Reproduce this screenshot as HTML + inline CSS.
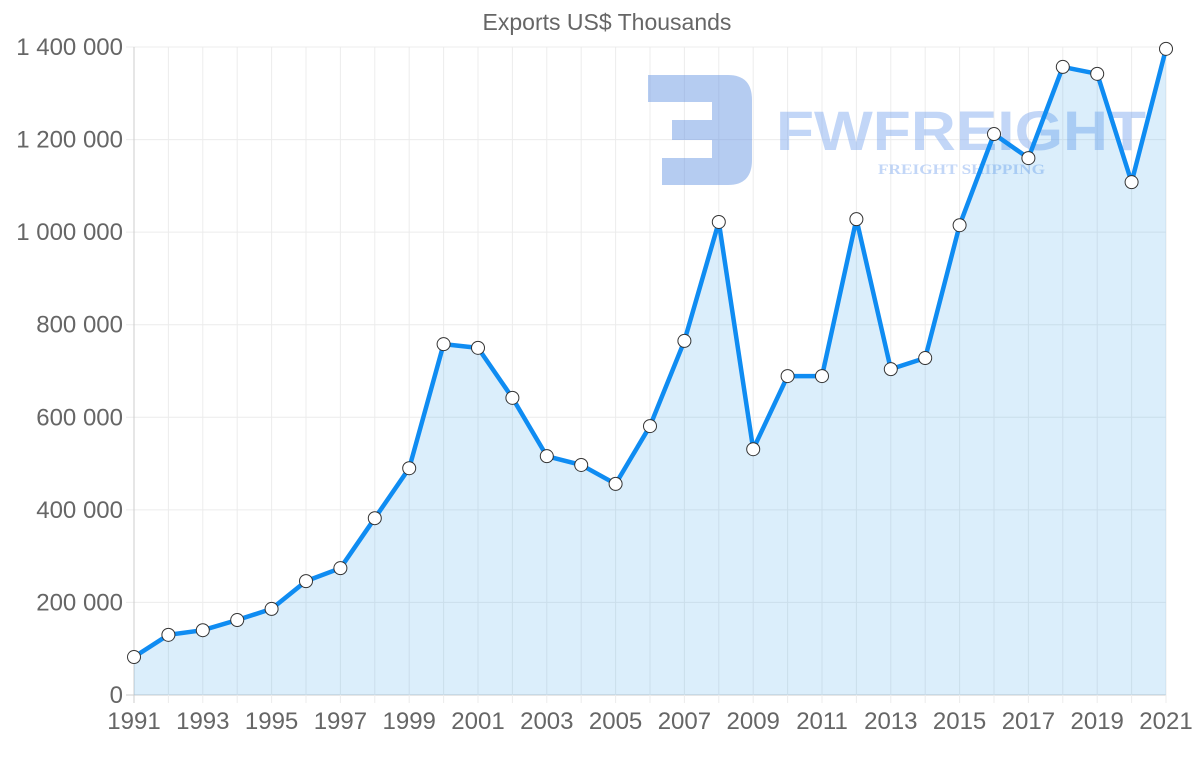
<!DOCTYPE html>
<html><head><meta charset="utf-8">
<style>
html,body{margin:0;padding:0;background:#fff;}
svg{display:block;font-family:"Liberation Sans",Arial,sans-serif;}
</style></head>
<body>
<svg id="chart" width="1200" height="763" viewBox="0 0 1200 763">
  <text x="607" y="30" text-anchor="middle" font-size="23" fill="#666">Exports US$ Thousands</text>
  <g id="grid"></g>
  <g id="watermark" opacity="0.45">
    <path d="M648,75 H728 Q752,75 752,100 V160 Q752,185 728,185 H662 V158 H712 V140 H672 V120 H712 V102 H648 Z" fill="#5b8fe0"/>
    <text x="776" y="150" font-size="56" font-weight="bold" fill="#7aa6ee" textLength="370" lengthAdjust="spacingAndGlyphs">FWFREIGHT</text>
    <text x="878" y="174" font-size="15" font-family="Liberation Serif,serif" font-weight="bold" fill="#7aa6ee" textLength="167" lengthAdjust="spacingAndGlyphs">FREIGHT SHIPPING</text>
  </g>
  <g id="series"></g>
  <g id="axes"></g>
</svg>
<script>
const years = [1991,1992,1993,1994,1995,1996,1997,1998,1999,2000,2001,2002,2003,2004,2005,2006,2007,2008,2009,2010,2011,2012,2013,2014,2015,2016,2017,2018,2019,2020,2021];
const exportsValues = [82000,130000,140000,162000,186000,246000,274000,382000,490000,758000,750000,642000,516000,497000,456000,581000,765000,1022000,531000,689000,689000,1028000,704000,728000,1015000,1212000,1160000,1357000,1342000,1108000,1396000];
const yTicks = [0,200000,400000,600000,800000,1000000,1200000,1400000];
const yTickLabels = ["0","200 000","400 000","600 000","800 000","1 000 000","1 200 000","1 400 000"];

const NS="http://www.w3.org/2000/svg";
const L=134,R=1166,T=47,B=695,yMax=1400000;
const xs=i=>L+(R-L)*i/(years.length-1);
const ys=v=>B-(B-T)*v/yMax;
function mk(tag,attrs,parent){const e=document.createElementNS(NS,tag);for(const k in attrs)e.setAttribute(k,attrs[k]);parent.appendChild(e);return e;}
const grid=document.getElementById('grid'),series=document.getElementById('series'),axes=document.getElementById('axes');

yTicks.forEach((t,i)=>{
  const y=ys(t);
  const g=mk('line',{x1:L-8,x2:R,y1:y,y2:y,stroke:i===0?'#ccc':'#ececec','stroke-width':1},grid);
  
  
  const tx=mk('text',{x:L-11,y:y+8,'text-anchor':'end','font-size':24,fill:'#666'},axes);
  tx.textContent=yTickLabels[i];
  
  
});
years.forEach((yr,i)=>{
  const x=xs(i);
  const g=mk('line',{x1:x,x2:x,y1:T,y2:B+8,stroke:i===0?'#ccc':'#ececec','stroke-width':1},grid);
  
  
  if(i%2===0){
    const tx=mk('text',{x:x,y:729,'text-anchor':'middle','font-size':24,fill:'#666'},axes);
    tx.textContent=yr;
    
    
  }
});

let d='';
exportsValues.forEach((v,i)=>{d+=(i?'L':'M')+xs(i)+','+ys(v);});
const area=mk('path',{d:d+'L'+xs(years.length-1)+','+B+'L'+xs(0)+','+B+'Z',fill:'rgba(54,162,235,0.18)'},series);


const line=mk('path',{d:d,fill:'none',stroke:'#0f8cf2','stroke-width':4.5,'stroke-linejoin':'round'},series);


exportsValues.forEach((v,i)=>{
  const c=mk('circle',{cx:xs(i),cy:ys(v),r:6.5,fill:'#fff',stroke:'#333','stroke-width':1},series);
  
  
});
</script>
</body></html>
